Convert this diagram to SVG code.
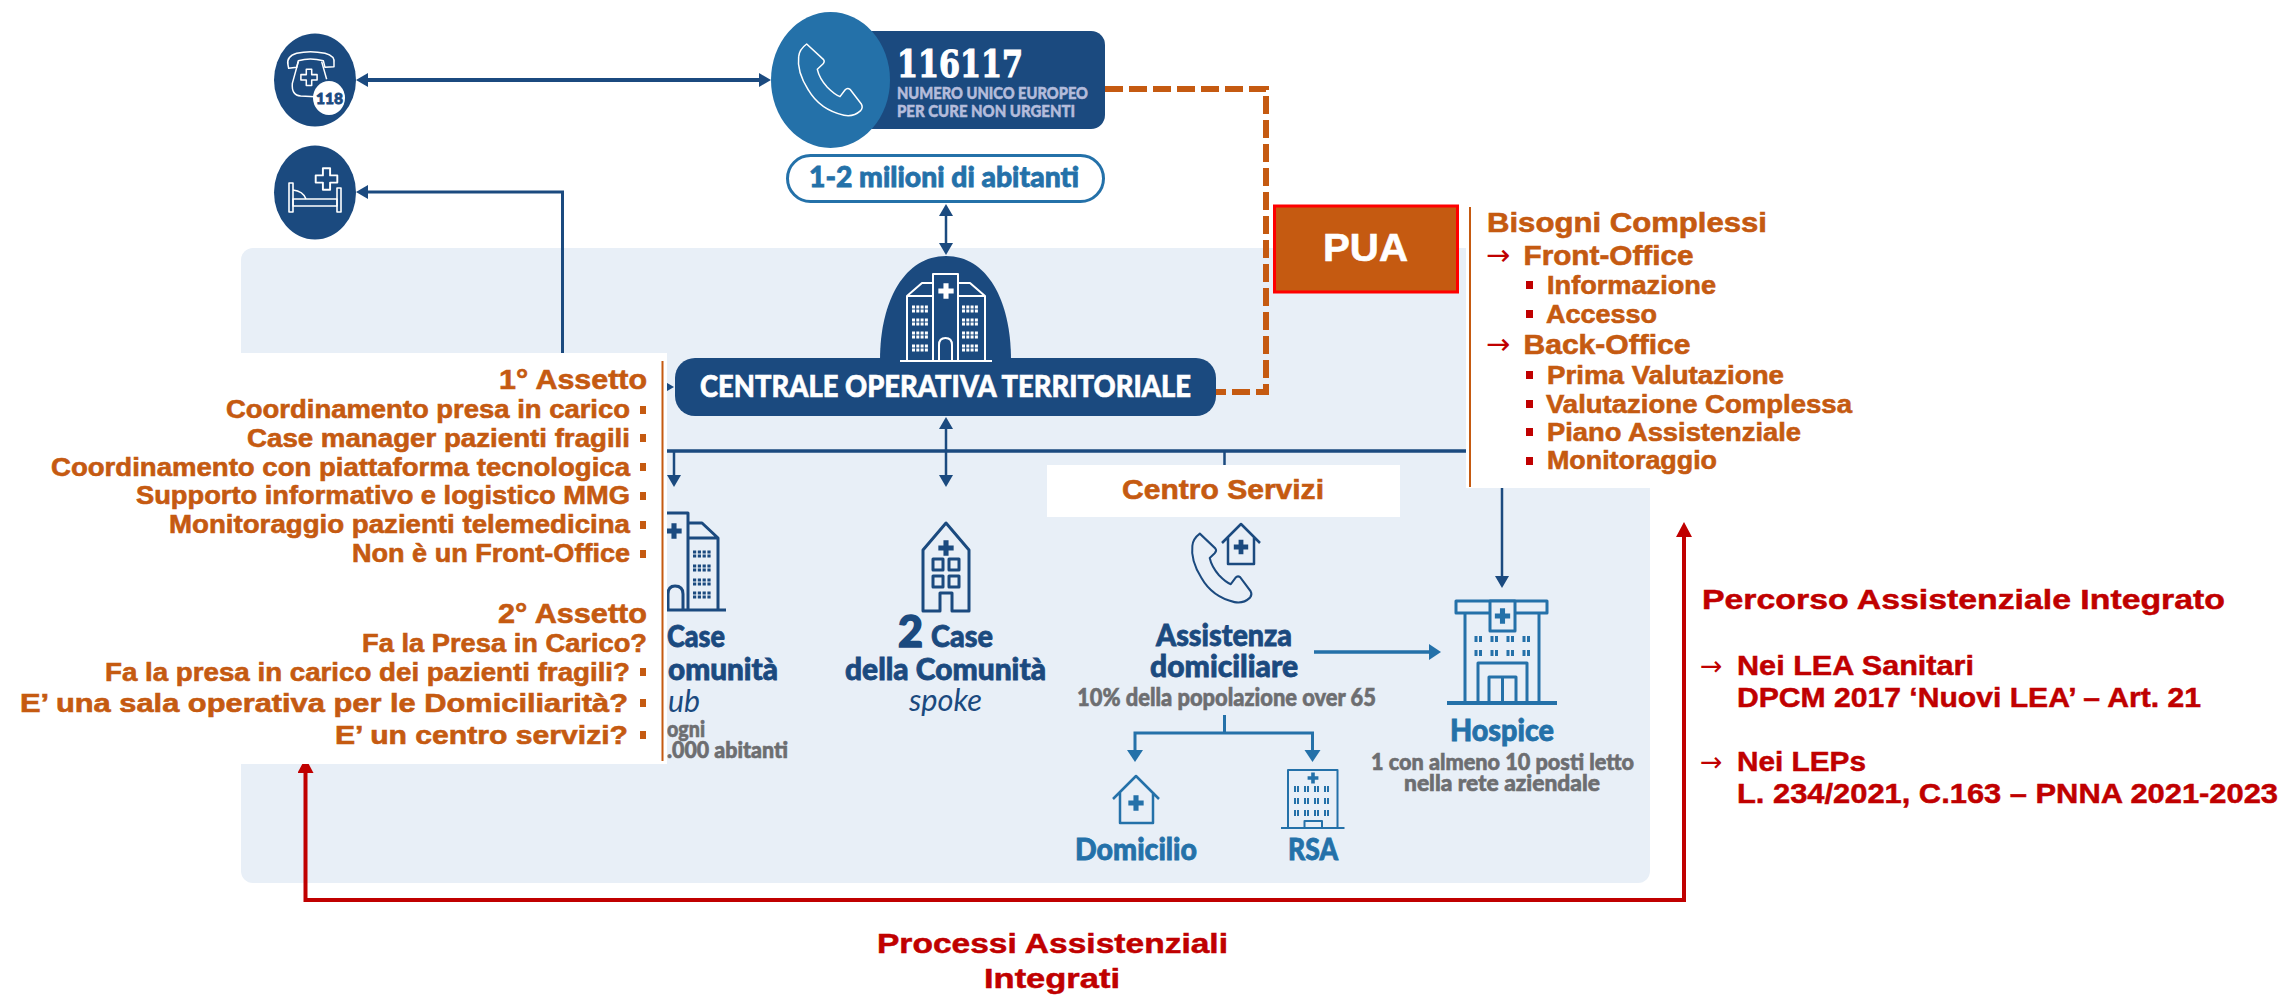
<svg xmlns="http://www.w3.org/2000/svg" width="2291" height="1002" viewBox="0 0 2291 1002">
<style>
text{font-family:"Lato","Noto Sans",sans-serif;font-weight:900}
.a{font-family:"Liberation Sans",Arial,sans-serif;font-weight:700;fill:#c55a11;stroke:#c55a11;stroke-width:.6}
.r{font-family:"Liberation Sans",Arial,sans-serif;font-weight:700;fill:#c00000;stroke:#c00000;stroke-width:.5}
.h28{font-size:28px}.h24{font-size:25px}
.arr{font-family:"DejaVu Sans",sans-serif;font-weight:400;fill:#c00000;font-size:29px}
.dk{fill:#1b4a7f}.md{fill:#2471a9}.gy{fill:#6d6e71}
.wht{fill:#fff}
text.dk{stroke:#1b4a7f;stroke-width:.8}
text.md{stroke:#2471a9;stroke-width:.8}
text.gy{stroke:#6d6e71;stroke-width:.6}
text.wht{stroke:#fff;stroke-width:.6}
text.thin{stroke-width:0}
.ln{fill:none;stroke-linejoin:round}
.dkl{stroke:#1b4a7f}.mdl{stroke:#2471a9}.whl{stroke:#fff}
.bul{fill:#c55a11}.bur{fill:#c00000}
</style>
<defs>
<marker id="mD" markerUnits="userSpaceOnUse" markerWidth="14" markerHeight="16" refX="6" refY="7" orient="auto-start-reverse"><path d="M0 0L12 7L0 14z" fill="#1b4a7f"/></marker>
<marker id="mM" markerUnits="userSpaceOnUse" markerWidth="14" markerHeight="18" refX="6" refY="8" orient="auto-start-reverse"><path d="M0 0L12 8L0 16z" fill="#2471a9"/></marker>
<marker id="mR" markerUnits="userSpaceOnUse" markerWidth="17" markerHeight="18" refX="7" refY="8" orient="auto-start-reverse"><path d="M0 0L15 8L0 16z" fill="#c00000"/></marker>
<path id="cross" d="M-3-9h6v6h6v6h-6v6h-6v-6h-6v-6h6z"/>
<path id="phone" d="M200 132L250 178Q256 185 248 193L232 208Q238 235 262 262Q285 285 300 290L315 270Q322 262 330 268L364 312Q370 322 362 332Q340 352 312 346Q240 330 205 270Q170 215 176 170Q178 148 200 132Z"/>
</defs>

<rect id="territory-panel" x="241" y="248" width="1409" height="635" rx="12" fill="#e8eff7"/>

<g id="connectors" fill="none">
<path d="M362 80H765" stroke="#1b4a7f" stroke-width="4" marker-start="url(#mD)" marker-end="url(#mD)"/>
<path d="M562.5 353V192H362" stroke="#1b4a7f" stroke-width="3" marker-end="url(#mD)"/>
<path d="M946 210V249" stroke="#1b4a7f" stroke-width="2.5" marker-start="url(#mD)" marker-end="url(#mD)"/>
<path d="M1105 89H1266V392H1214" stroke="#c55a11" stroke-width="6" stroke-dasharray="18 6"/>
<path d="M650 387H668" stroke="#1b4a7f" stroke-width="3" marker-end="url(#mD)"/>
<path d="M667 451H1502" stroke="#1b4a7f" stroke-width="3.500"/>
<path d="M674 451V481" stroke="#1b4a7f" stroke-width="2.5" marker-end="url(#mD)"/>
<path d="M946 423V481" stroke="#1b4a7f" stroke-width="2.5" marker-start="url(#mD)" marker-end="url(#mD)"/>
<path d="M1224.5 451V466" stroke="#1b4a7f" stroke-width="2.5"/>
<path d="M1502 451V582" stroke="#1b4a7f" stroke-width="2.5" marker-end="url(#mD)"/>
<path d="M1314 652H1435" stroke="#2471a9" stroke-width="3.500" marker-end="url(#mM)"/>
<path d="M1224.5 715V733" stroke="#2471a9" stroke-width="3"/>
<path d="M1135 756V733H1312.5V756" stroke="#2471a9" stroke-width="3" marker-start="url(#mM)" marker-end="url(#mM)"/>
<path d="M305.5 766V900H1684V530" stroke="#c00000" stroke-width="4" marker-start="url(#mR)" marker-end="url(#mR)"/>
</g>

<g id="node-118">
<ellipse cx="315" cy="80" rx="41" ry="46.5" class="dk"/>
<g transform="translate(260 20) scale(.3333)" class="ln whl" stroke-width="4.5">
<path d="M84 135Q78 110 110 100Q150 90 195 100Q226 108 222 130L222 140L195 142L190 122Q150 112 115 122L110 142L86 145Z"/>
<path d="M115 125L97 190Q94 226 122 228L165 230M185 125L200 178"/>
<use href="#cross" transform="translate(147 172) scale(2.7)" stroke-width="1.7"/>
</g>
<ellipse cx="329" cy="98" rx="16" ry="17" class="wht"/>
<text x="316" y="104" class="dk" font-size="15" textLength="27" lengthAdjust="spacingAndGlyphs">118</text>
</g>

<g id="node-bed">
<ellipse cx="315" cy="192.5" rx="41" ry="47" class="dk"/>
<g class="ln whl" stroke-width="1.6">
<rect x="289" y="183" width="4" height="29"/>
<rect x="337" y="188" width="4" height="24"/>
<rect x="293" y="199" width="44" height="7"/>
<path d="M293 190Q303 191 306 199"/>
<use href="#cross" transform="translate(326.5 179) scale(1.2)"/>
</g>
</g>

<g id="node-116117">
<rect x="830" y="31" width="275" height="98" rx="14" class="dk"/>
<ellipse cx="830.5" cy="80" rx="59.5" ry="68" class="md"/>
<use href="#phone" transform="translate(740 0) scale(.3333)" class="ln whl" stroke-width="4.5"/>
<text x="897" y="77" class="wht" style="font-family:'DejaVu Serif',serif;font-weight:700;stroke-width:1.2" font-size="37" textLength="126" lengthAdjust="spacingAndGlyphs">116117</text>
<text x="897" y="99" font-size="16.500" fill="#b4bcdb" stroke="#b4bcdb" stroke-width=".5" textLength="191" lengthAdjust="spacingAndGlyphs">NUMERO UNICO EUROPEO</text>
<text x="897" y="117" font-size="16.500" fill="#b4bcdb" stroke="#b4bcdb" stroke-width=".5" textLength="178" lengthAdjust="spacingAndGlyphs">PER CURE NON URGENTI</text>
</g>

<g id="node-abitanti">
<rect x="787.5" y="155.5" width="316" height="46" rx="23" fill="#fff" stroke="#2471a9" stroke-width="3"/>
<text x="809" y="187" class="md" font-size="29" textLength="270" lengthAdjust="spacingAndGlyphs">1-2 milioni di abitanti</text>
</g>

<g id="node-cot">
<path d="M880 360C880 300 905 256 946 256C987 256 1011 300 1011 360Z" class="dk"/>
<rect x="675" y="358" width="541" height="58" rx="20" class="dk"/>
<g class="ln whl" stroke-width="2">
<path d="M907 361V296H933M985 361V296H958M907 296L922 283H933M985 296L970 283H958M933 361V274H958V361M900 361H992"/>
<path d="M939 361V345Q939 338 945.5 338Q952 338 952 345V361"/>
<path d="M912 307H929M912 311H929M912 320H929M912 324H929M912 333H929M912 337H929M912 346H929M912 350H929M962 307H979M962 311H979M962 320H979M962 324H979M962 333H979M962 337H979M962 346H979M962 350H979" stroke-width="3" stroke-dasharray="3 1.3"/>
</g>
<use href="#cross" transform="translate(946 291) scale(.85)" class="wht"/>
<text x="700" y="397" class="wht" font-size="30" textLength="491" lengthAdjust="spacingAndGlyphs">CENTRALE OPERATIVA TERRITORIALE</text>
</g>

<g id="node-pua">
<rect x="1274.5" y="206" width="183" height="86" fill="#c55a11" stroke="#f00" stroke-width="3"/>
<text x="1323" y="261" class="wht" style="font-family:'Liberation Sans',Arial,sans-serif;font-weight:700" font-size="38" textLength="85" lengthAdjust="spacingAndGlyphs">PUA</text>
</g>

<g id="node-hub">
<g class="ln dkl" stroke-width="3">
<path d="M667 513H688V610M688 523H702L718 538V610M688 538H718M667 610H726M668 610V594Q668 586 675 586Q683 586 683 594V610"/>
<path d="M693 552H712M693 556H712M693 566H712M693 570H712M693 580H712M693 584H712M693 593H712M693 597H712" stroke-width="3.200" stroke-dasharray="3.200 1.600"/>
</g>
<use href="#cross" transform="translate(674 531) scale(.85)" class="dk"/>
<text x="667" y="647" class="dk" font-size="30" textLength="58" lengthAdjust="spacingAndGlyphs">Case</text>
<text x="668" y="680" class="dk" font-size="30" textLength="110" lengthAdjust="spacingAndGlyphs">omunità</text>
<text x="668" y="712" class="dk thin" style="font-weight:400;font-style:italic" font-size="30" textLength="32" lengthAdjust="spacingAndGlyphs">ub</text>
<text x="667" y="737" class="gy" font-size="22" textLength="38" lengthAdjust="spacingAndGlyphs">ogni</text>
<text x="667" y="758" class="gy" font-size="22" textLength="121" lengthAdjust="spacingAndGlyphs">.000 abitanti</text>
</g>

<g id="node-spoke">
<g class="ln dkl" stroke-width="3">
<path d="M923 611V550L946 523L969 550V611H952V593H940V611Z"/>
<rect x="933" y="559" width="10" height="11"/><rect x="949" y="559" width="10" height="11"/>
<rect x="933" y="576" width="10" height="11"/><rect x="949" y="576" width="10" height="11"/>
</g>
<use href="#cross" transform="translate(946 548) scale(.85)" class="dk"/>
<text x="898" y="647" class="dk" style="stroke-width:1.500" font-size="43" textLength="25" lengthAdjust="spacingAndGlyphs">2</text>
<text x="931" y="647" class="dk" font-size="30" textLength="62" lengthAdjust="spacingAndGlyphs">Case</text>
<text x="845" y="680" class="dk" font-size="30" textLength="201" lengthAdjust="spacingAndGlyphs">della Comunità</text>
<text x="909" y="711" class="dk thin" style="font-weight:400;font-style:italic" font-size="30" textLength="73" lengthAdjust="spacingAndGlyphs">spoke</text>
</g>

<g id="node-centro-servizi">
<rect x="1047" y="465" width="353" height="52" fill="#fff"/>
<text x="1122" y="499" class="a" font-size="27" textLength="202" lengthAdjust="spacingAndGlyphs">Centro Servizi</text>
</g>

<g id="node-assistenza">
<use href="#phone" transform="translate(1137.8 491.4) scale(.31 .32)" class="ln dkl" stroke-width="6.500"/>
<g class="ln dkl" stroke-width="2.5">
<path d="M1222 543L1241 524L1260 543M1228 537V564H1254V537"/>
</g>
<use href="#cross" transform="translate(1241 547) scale(.8)" class="dk"/>
<text x="1156" y="646" class="dk" font-size="31" textLength="136" lengthAdjust="spacingAndGlyphs">Assistenza</text>
<text x="1150" y="677" class="dk" font-size="31" textLength="148" lengthAdjust="spacingAndGlyphs">domiciliare</text>
<text x="1077" y="706" class="gy" font-size="24" textLength="299" lengthAdjust="spacingAndGlyphs">10% della popolazione over 65</text>
</g>

<g id="node-hospice">
<g class="ln mdl" stroke-width="3">
<rect x="1456" y="601" width="91" height="12"/>
<path d="M1465 613V703M1539 613V703"/>
<path d="M1447 703H1557" stroke-width="4"/>
<rect x="1490" y="601" width="25" height="30" fill="#e8eff7"/>
<path d="M1478 703V663H1527V703M1489 703V677H1516V703M1502.500 677V703"/>
<path d="M1476 636V642M1480.500 636V642M1492 636V642M1496.500 636V642M1508 636V642M1512.500 636V642M1524 636V642M1528.500 636V642M1476 650V656M1480.500 650V656M1492 650V656M1496.500 650V656M1508 650V656M1512.500 650V656M1524 650V656M1528.500 650V656"/>
</g>
<use href="#cross" transform="translate(1502.500 616) scale(.85)" class="md"/>
<text x="1450" y="741" class="md" font-size="31" textLength="104" lengthAdjust="spacingAndGlyphs">Hospice</text>
<text x="1371" y="770" class="gy" font-size="23" textLength="263" lengthAdjust="spacingAndGlyphs">1 con almeno 10 posti letto</text>
<text x="1404" y="791" class="gy" font-size="23" textLength="196" lengthAdjust="spacingAndGlyphs">nella rete aziendale</text>
</g>

<g id="node-domicilio">
<path d="M1113 799L1136 776L1159 799M1120 792V823H1153V792" class="ln mdl" stroke-width="2.5"/>
<use href="#cross" transform="translate(1136 803) scale(.85)" class="md"/>
<text x="1075" y="860" class="md" font-size="31" textLength="122" lengthAdjust="spacingAndGlyphs">Domicilio</text>
</g>

<g id="node-rsa">
<g class="ln mdl" stroke-width="2">
<path d="M1288 828V770H1337.500V828M1281 828H1344.500M1304.500 828V821H1322V828"/>
<path d="M1294 789H1333M1294 801H1333M1294 813H1333" stroke-width="6" stroke-dasharray="2 1 2 5"/>
</g>
<use href="#cross" transform="translate(1313 778) scale(.6)" class="md"/>
<text x="1288" y="860" class="md" font-size="31" textLength="50" lengthAdjust="spacingAndGlyphs">RSA</text>
</g>

<g id="note-assetto">
<rect x="0" y="353" width="667" height="411" fill="#fff"/>
<path d="M662.500 361V761" stroke="#c55a11" stroke-width="2"/>
<text x="499" y="389" class="a h28" textLength="148" lengthAdjust="spacingAndGlyphs">1° Assetto</text>
<text x="226" y="418" class="a h24" textLength="404" lengthAdjust="spacingAndGlyphs">Coordinamento presa in carico</text><rect x="640" y="406" width="6" height="8" class="bul"/>
<text x="247" y="447" class="a h24" textLength="383" lengthAdjust="spacingAndGlyphs">Case manager pazienti fragili</text><rect x="640" y="434" width="6" height="8" class="bul"/>
<text x="51" y="476" class="a h24" textLength="579" lengthAdjust="spacingAndGlyphs">Coordinamento con piattaforma tecnologica</text><rect x="640" y="463" width="6" height="8" class="bul"/>
<text x="136" y="504" class="a h24" textLength="494" lengthAdjust="spacingAndGlyphs">Supporto informativo e logistico MMG</text><rect x="640" y="492" width="6" height="8" class="bul"/>
<text x="169" y="533" class="a h24" textLength="461" lengthAdjust="spacingAndGlyphs">Monitoraggio pazienti telemedicina</text><rect x="640" y="521" width="6" height="8" class="bul"/>
<text x="352" y="562" class="a h24" textLength="278" lengthAdjust="spacingAndGlyphs">Non è un Front-Office</text><rect x="640" y="550" width="6" height="8" class="bul"/>
<text x="498" y="623" class="a h28" textLength="149" lengthAdjust="spacingAndGlyphs">2° Assetto</text>
<text x="362" y="652" class="a h24" textLength="285" lengthAdjust="spacingAndGlyphs">Fa la Presa in Carico?</text>
<text x="105" y="681" class="a h24" textLength="525" lengthAdjust="spacingAndGlyphs">Fa la presa in carico dei pazienti fragili?</text><rect x="640" y="668" width="6" height="8" class="bul"/>
<text x="20" y="712" class="a h24" textLength="608" lengthAdjust="spacingAndGlyphs">E’ una sala operativa per le Domiciliarità?</text><rect x="640" y="699" width="6" height="8" class="bul"/>
<text x="335" y="744" class="a h24" textLength="293" lengthAdjust="spacingAndGlyphs">E’ un centro servizi?</text><rect x="640" y="731" width="6" height="8" class="bul"/>
</g>

<g id="note-bisogni">
<rect x="1466" y="200" width="194" height="288" fill="#fff"/>
<path d="M1470 207V487" stroke="#c55a11" stroke-width="2"/>
<text x="1487" y="232" class="a h28" textLength="280" lengthAdjust="spacingAndGlyphs">Bisogni Complessi</text>
<text x="1486" y="265" class="arr">→</text>
<text x="1523.500" y="265" class="a h28" textLength="170" lengthAdjust="spacingAndGlyphs">Front-Office</text>
<rect x="1526" y="281" width="7" height="8" class="bur"/>
<text x="1547" y="294" class="a h24" textLength="169" lengthAdjust="spacingAndGlyphs">Informazione</text>
<rect x="1526" y="310" width="7" height="8" class="bur"/>
<text x="1546" y="323" class="a h24" textLength="111" lengthAdjust="spacingAndGlyphs">Accesso</text>
<text x="1486" y="354" class="arr">→</text>
<text x="1523.500" y="354" class="a h28" textLength="167" lengthAdjust="spacingAndGlyphs">Back-Office</text>
<rect x="1526" y="371" width="7" height="8" class="bur"/>
<text x="1547" y="384" class="a h24" textLength="237" lengthAdjust="spacingAndGlyphs">Prima Valutazione</text>
<rect x="1526" y="400" width="7" height="8" class="bur"/>
<text x="1546" y="413" class="a h24" textLength="306" lengthAdjust="spacingAndGlyphs">Valutazione Complessa</text>
<rect x="1526" y="428" width="7" height="8" class="bur"/>
<text x="1547" y="441" class="a h24" textLength="254" lengthAdjust="spacingAndGlyphs">Piano Assistenziale</text>
<rect x="1526" y="457" width="7" height="8" class="bur"/>
<text x="1547" y="469" class="a h24" textLength="170" lengthAdjust="spacingAndGlyphs">Monitoraggio</text>
</g>

<g id="note-percorso">
<text x="1702" y="609" class="r h28" textLength="523" lengthAdjust="spacingAndGlyphs">Percorso Assistenziale Integrato</text>
<text x="1700" y="675" class="arr" style="font-size:27px">→</text>
<text x="1737" y="675" class="r h28" textLength="237" lengthAdjust="spacingAndGlyphs">Nei LEA Sanitari</text>
<text x="1737" y="707" class="r h28" textLength="464" lengthAdjust="spacingAndGlyphs">DPCM 2017 ‘Nuovi LEA’ – Art. 21</text>
<text x="1700" y="771" class="arr" style="font-size:27px">→</text>
<text x="1737" y="771" class="r h28" textLength="129" lengthAdjust="spacingAndGlyphs">Nei LEPs</text>
<text x="1737" y="803" class="r h28" textLength="541" lengthAdjust="spacingAndGlyphs">L. 234/2021, C.163 – PNNA 2021-2023</text>
</g>

<g id="note-processi">
<text x="877" y="953" class="r h28" textLength="351" lengthAdjust="spacingAndGlyphs">Processi Assistenziali</text>
<text x="984" y="988" class="r h28" textLength="136" lengthAdjust="spacingAndGlyphs">Integrati</text>
</g>
</svg>
